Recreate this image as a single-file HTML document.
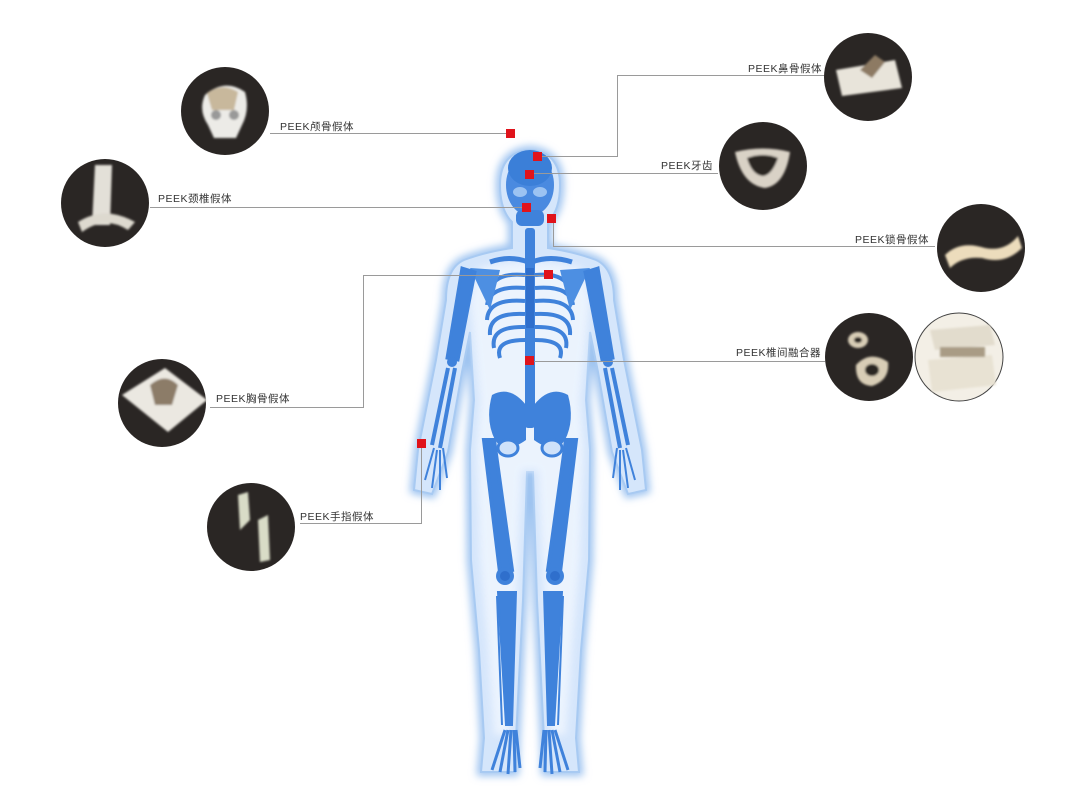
<!DOCTYPE html>
<html><head><meta charset="utf-8"><style>
html,body{margin:0;padding:0;background:#fff;}
svg{display:block}
text{font-family:"Liberation Sans","Noto Sans CJK SC",sans-serif;font-size:10.5px;fill:#333;letter-spacing:0.5px}
</style></head><body>
<svg width="1080" height="810" viewBox="0 0 1080 810" xmlns="http://www.w3.org/2000/svg">
<defs>
<filter id="glow" x="-20%" y="-20%" width="140%" height="140%"><feGaussianBlur stdDeviation="4"/></filter>
<filter id="soft" x="-20%" y="-20%" width="140%" height="140%"><feGaussianBlur stdDeviation="1"/></filter>
<path id="sil" d="M512 222 Q500 210 500 185 Q500 152 530 150 Q560 152 560 185 Q560 210 548 222 L548 248 Q575 252 596 260 Q614 268 614 300 L624 360 L642 450 L646 490 L628 494 L612 452 L598 372 L590 332 L586 400 L590 450 L589 560 L581 650 L576 738 L579 772 L545 772 L544 738 L537 600 L533 472 L527 472 L523 600 L516 738 L515 772 L481 772 L484 738 L479 650 L471 560 L470 450 L474 400 L470 332 L462 372 L448 452 L432 494 L414 490 L418 450 L436 360 L446 300 Q446 268 464 260 Q485 252 512 248Z"/>
</defs>

<!-- body skin silhouette -->
<use href="#sil" fill="#b9d5f6" stroke="#9cc2f0" stroke-width="8" filter="url(#glow)"/>
<use href="#sil" fill="#d5e6fb" stroke="#a8caf2" stroke-width="2"/>
<g fill="#eef5fe" opacity="0.9" filter="url(#glow)">
<path d="M478 268 Q530 256 582 268 L590 300 L580 400 L584 450 L580 560 L572 650 L566 735 L552 735 L544 600 L538 470 L522 470 L516 600 L508 735 L494 735 L488 650 L480 560 L476 450 L480 400 L470 300Z"/>
</g>

<!-- bones -->
<g fill="#3f82db" stroke="#3f82db">
<ellipse cx="530" cy="185" rx="24" ry="31" fill="#4a8ae0" stroke="none"/>
<ellipse cx="530" cy="168" rx="22" ry="18" fill="#3b7fd8" stroke="none"/>
<rect x="516" y="210" width="28" height="16" rx="6" stroke="none"/>
<ellipse cx="520" cy="192" rx="7" ry="5" fill="#9cc3f2" stroke="none"/>
<ellipse cx="540" cy="192" rx="7" ry="5" fill="#9cc3f2" stroke="none"/>
<rect x="525" y="228" width="10" height="200" rx="3" stroke="none"/>
<path d="M490 262 Q510 255 528 262 M532 262 Q550 255 572 262" fill="none" stroke-width="5"/>
<g fill="none" stroke-width="4">
<path d="M525 275 Q495 272 490 290"/><path d="M535 275 Q565 272 570 290"/>
<path d="M525 288 Q490 285 487 305"/><path d="M535 288 Q570 285 573 305"/>
<path d="M525 301 Q488 298 487 320"/><path d="M535 301 Q572 298 573 320"/>
<path d="M525 314 Q488 312 490 335"/><path d="M535 314 Q572 312 570 335"/>
<path d="M525 327 Q490 326 494 348"/><path d="M535 327 Q570 326 566 348"/>
<path d="M525 340 Q494 340 500 358"/><path d="M535 340 Q566 340 560 358"/>
</g>
<rect x="526" y="268" width="8" height="60" stroke="none" fill="#2f6fcc"/>
<path d="M470 268 L500 270 L490 310 Z" stroke="none" fill="#4d8fe2"/>
<path d="M590 268 L560 270 L570 310 Z" stroke="none" fill="#4d8fe2"/>
<path d="M462 268 L475 272 L458 360 L447 358Z" stroke-width="3"/>
<path d="M598 268 L585 272 L602 360 L613 358Z" stroke-width="3"/>
<circle cx="452" cy="362" r="5" stroke="none"/><circle cx="608" cy="362" r="5" stroke="none"/>
<path d="M448 368 L432 445 M455 368 L440 448" fill="none" stroke-width="4"/>
<path d="M612 368 L628 445 M605 368 L620 448" fill="none" stroke-width="4"/>
<g fill="none" stroke-width="2">
<path d="M434 448 L425 480 M437 450 L432 488 M440 450 L440 490 M443 448 L447 478"/>
<path d="M626 448 L635 480 M623 450 L628 488 M620 450 L620 490 M617 448 L613 478"/>
</g>
<path d="M492 395 Q510 385 526 405 L526 440 Q505 455 495 440 Q485 420 492 395Z" stroke="none"/>
<path d="M568 395 Q550 385 534 405 L534 440 Q555 455 565 440 Q575 420 568 395Z" stroke="none"/>
<ellipse cx="508" cy="448" rx="10" ry="8" fill="#cfe2fa" stroke="#3f82db" stroke-width="3"/>
<ellipse cx="552" cy="448" rx="10" ry="8" fill="#cfe2fa" stroke="#3f82db" stroke-width="3"/>
<path d="M484 440 L494 440 L512 570 L500 572Z" stroke-width="4"/>
<path d="M576 440 L566 440 L548 570 L560 572Z" stroke-width="4"/>
<circle cx="505" cy="576" r="9" stroke="none"/><circle cx="555" cy="576" r="9" stroke="none"/>
<circle cx="505" cy="576" r="5" fill="#2f6fcc" stroke="none"/><circle cx="555" cy="576" r="5" fill="#2f6fcc" stroke="none"/>
<path d="M498 592 L516 592 L512 725 L506 725Z" stroke-width="2"/>
<path d="M562 592 L544 592 L548 725 L554 725Z" stroke-width="2"/>
<path d="M497 596 L502 725" fill="none" stroke-width="2"/>
<path d="M563 596 L558 725" fill="none" stroke-width="2"/>
<g fill="none" stroke-width="3">
<path d="M505 730 L492 770 M508 730 L500 772 M511 730 L508 774 M514 730 L515 772 M516 730 L520 768"/>
<path d="M555 730 L568 770 M552 730 L560 772 M549 730 L552 774 M546 730 L545 772 M544 730 L540 768"/>
</g>
</g>

<!-- connector lines -->
<g fill="none" stroke="#9a9a9a" stroke-width="1">
<path d="M270 133.5 H506"/>
<path d="M830 75.5 H617.5 V156.5 H541"/>
<path d="M718 173.5 H533"/>
<path d="M150 207.5 H522"/>
<path d="M935 246.5 H553.5 V220"/>
<path d="M825 361.5 H533"/>
<path d="M210 407.5 H363.5 V275.5 H544"/>
<path d="M300 523.5 H421.5 V447"/>
</g>

<g fill="#e0131b">
<rect x="506" y="129" width="9" height="9"/>
<rect x="533" y="152" width="9" height="9"/>
<rect x="525" y="170" width="9" height="9"/>
<rect x="522" y="203" width="9" height="9"/>
<rect x="547" y="214" width="9" height="9"/>
<rect x="544" y="270" width="9" height="9"/>
<rect x="525" y="356" width="9" height="9"/>
<rect x="417" y="439" width="9" height="9"/>
</g>

<text x="280" y="130">PEEK颅骨假体</text>
<text x="748" y="72">PEEK鼻骨假体</text>
<text x="661" y="169">PEEK牙齿</text>
<text x="158" y="202">PEEK颈椎假体</text>
<text x="855" y="243">PEEK锁骨假体</text>
<text x="736" y="356">PEEK椎间融合器</text>
<text x="216" y="402">PEEK胸骨假体</text>
<text x="300" y="520">PEEK手指假体</text>

<g fill="#2a2624">
<circle cx="225" cy="111" r="44"/>
<circle cx="868" cy="77" r="44"/>
<circle cx="763" cy="166" r="44"/>
<circle cx="105" cy="203" r="44"/>
<circle cx="981" cy="248" r="44"/>
<circle cx="869" cy="357" r="44"/>
<circle cx="162" cy="403" r="44"/>
<circle cx="251" cy="527" r="44"/>
</g>
<circle cx="959" cy="357" r="44" fill="#f3efe6" stroke="#444" stroke-width="1"/>

<g filter="url(#soft)">
<path d="M205 95 Q225 78 245 92 Q250 110 242 125 L236 138 L214 138 L208 125 Q198 110 205 95Z" fill="#ecebe7"/>
<path d="M207 93 Q222 82 238 92 L234 110 L212 110Z" fill="#c8b89c"/>
<circle cx="216" cy="115" r="5" fill="#999"/><circle cx="234" cy="115" r="5" fill="#999"/>
<path d="M836 70 L895 60 L902 88 L842 96Z" fill="#e8e4da"/>
<path d="M860 70 L875 55 L885 62 L872 78Z" fill="#8d7a63"/>
<path d="M735 152 Q763 145 790 152 Q785 185 765 188 Q742 185 735 152Z" fill="#d9d2c6"/>
<path d="M747 158 Q763 152 778 158 Q772 175 763 176 Q752 175 747 158Z" fill="#2a2624"/>
<path d="M95 165 L112 165 L110 225 L92 225Z" fill="#e3e0d8"/>
<path d="M78 222 Q105 205 135 222 L128 230 Q105 215 82 232Z" fill="#ddd9cf"/>
<path d="M945 255 Q960 240 985 248 Q1005 252 1018 236 L1022 248 Q1005 265 982 258 Q962 256 950 268Z" fill="#ecdcbc"/>
<ellipse cx="858" cy="340" rx="10" ry="8" fill="#d8cdb6"/><ellipse cx="858" cy="340" rx="4" ry="3" fill="#2a2624"/>
<path d="M856 365 Q870 350 888 362 Q890 380 872 386 Q855 385 856 365Z" fill="#d8cdb6"/>
<ellipse cx="872" cy="370" rx="7" ry="6" fill="#2a2624"/>
<path d="M930 330 L990 325 L995 345 L935 350Z" fill="#e2dccd"/>
<path d="M928 360 L992 355 L996 385 L932 392Z" fill="#e8e2d3"/>
<rect x="940" y="347" width="45" height="10" fill="#a99c85"/>
<path d="M122 395 L165 368 L207 400 L168 432Z" fill="#ebe8e1"/>
<path d="M150 385 Q165 372 178 385 L172 405 L155 405Z" fill="#8c7c68"/>
<path d="M238 495 L248 492 L250 520 L240 530Z" fill="#d9dcc7"/>
<path d="M258 520 L268 515 L270 560 L260 562Z" fill="#d9dcc7"/>
</g>
</svg>
</body></html>
